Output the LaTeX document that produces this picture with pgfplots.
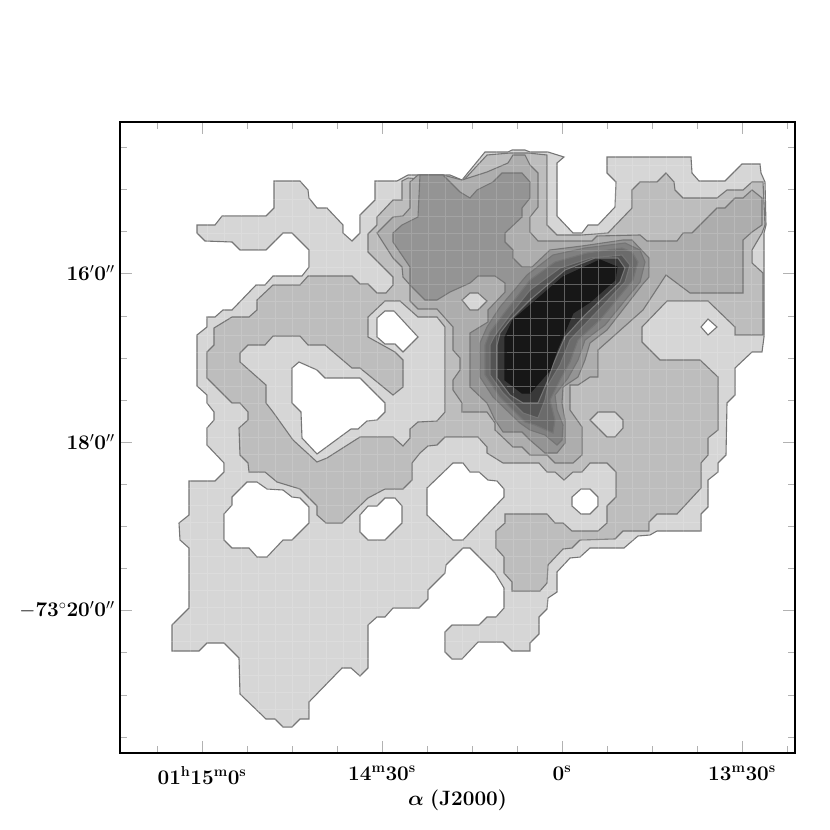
\documentclass[border=0pt]{standalone}
\usepackage{amsmath}
\usepackage{pgfplots}
\pgfplotsset{compat=1.18}
\definecolor{LA}{gray}{0.84}
\definecolor{LB}{gray}{0.74}
\definecolor{LC}{gray}{0.68}
\definecolor{LD}{gray}{0.58}
\definecolor{LE}{gray}{0.50}
\definecolor{LF}{gray}{0.42}
\definecolor{LG}{gray}{0.33}
\definecolor{LH}{gray}{0.22}
\definecolor{LI}{gray}{0.09}
\definecolor{Edge}{gray}{0.46}
\begin{document}
\begin{tikzpicture}[x=1pt,y=1pt]
\useasboundingbox (0,0) rectangle (830,830);
\begin{axis}[
  at={(120pt,77pt)}, anchor=south west,
  width=675pt, height=631pt, scale only axis,
  xmin=120, xmax=795, ymin=122, ymax=753, y dir=reverse,
  axis on top, axis line style={black,line width=1.8pt},
  unbounded coords=jump,
  tick align=inside, xtick pos=both, ytick pos=both,
  tick style={gray!60,line width=0.9pt},
  major tick length=12pt, minor tick length=7pt,
  xtick={202,382,562,742},
  xticklabels={$\mathbf{01^{h}15^{m}0^{s}}$,$\mathbf{14^{m}30^{s}}$,$\mathbf{0^{s}}$,$\mathbf{13^{m}30^{s}}$},
  minor xtick={157,247,292,337,427,472,517,607,652,697,787},
  ytick={273,442,610},
  yticklabels={$\mathbf{16'0''}$,$\mathbf{18'0''}$,$\mathbf{-73^{\circ}20'0''}$},
  minor ytick={147,189,231,316,358,400,484,526,568,652,695,737},
  tick label style={font=\fontsize{20.74}{23}\selectfont},
  xticklabel style={yshift=-10pt},
  yticklabel style={xshift=-2pt},
  xlabel={$\boldsymbol{\alpha}$ \textbf{(J2000)}},
  xlabel style={font=\fontsize{20.74}{23}\selectfont,yshift=1pt},
]
\pgfplotsset{every axis plot/.append style={line width=1.1pt,draw=Edge}}
% level A
\addplot[fill=LA] coordinates {(197,225)(215,225)(222,216)(266,216)(274,208)(274,181)(300,181)(308,190)(309,198)(317,208)(327,208)(343,225)(343,233)(352,241)(360,233)(360,215)(375,200)(375,181)(397,181)(408,175)(450,175)(462,180)(485,152)(508,152)(512,150)(525,150)(530,152)(548,152)(564,157)(557,163)(557,216)(573,233)(582,233)(588,225)(598,225)(615,207)(616,182)(607,173)(607,157)(691,157)(692,173)(699,181)(725,181)(742,164)(760,164)(761,173)(765,182)(766,225)(764,233)(764,337)(762,352)(752,352)(735,368)(735,395)(727,403)(726,455)(718,463)(718,472)(708,480)(708,507)(701,514)(701,531)(657,531)(650,535)(638,536)(624,548)(590,548)(580,557)(570,558)(557,572)(557,592)(548,598)(547,609)(539,617)(539,634)(530,643)(530,651)(512,651)(503,642)(478,642)(462,659)(452,659)(445,652)(445,632)(452,625)(479,625)(487,617)(496,617)(504,608)(504,588)(495,573)(470,548)(463,548)(446,565)(445,573)(428,590)(428,599)(419,608)(393,608)(385,617)(377,617)(368,625)(368,668)(360,676)(351,668)(342,668)(309,702)(309,719)(300,719)(292,727)(283,727)(275,719)(266,719)(240,694)(239,658)(224,643)(207,643)(199,651)(172,651)(172,625)(189,608)(189,548)(180,540)(179,523)(189,515)(189,481)(215,481)(224,472)(224,463)(207,445)(207,428)(214,420)(214,412)(207,403)(207,395)(197,386)(197,335)(207,327)(207,317)(215,317)(223,310)(232,310)(256,285)(265,285)(273,276)(302,276)(309,267)(309,250)(292,233)(283,233)(266,250)(240,250)(232,242)(205,241)(197,233)} --cycle;
% level B
\addplot[fill=LB] coordinates {(402,181)(408,178)(462,182)(487,155)(510,153)(528,153)(547,155)(547,225)(557,235)(582,235)(608,233)(632,208)(632,190)(640,182)(657,182)(666,173)(674,182)(675,190)(683,198)(717,198)(727,190)(743,190)(752,182)(763,182)(765,225)(762,233)(752,250)(752,263)(763,273)(763,335)(735,335)(735,327)(708,301)(667,301)(642,327)(642,342)(660,360)(700,360)(718,377)(718,430)(708,438)(708,455)(701,463)(701,488)(677,514)(657,514)(649,522)(649,531)(623,531)(615,539)(580,540)(572,548)(563,549)(548,565)(547,583)(540,591)(512,591)(512,582)(504,573)(504,557)(496,548)(496,531)(505,523)(505,514)(547,514)(555,523)(563,523)(572,531)(598,531)(607,523)(607,506)(616,497)(616,472)(607,463)(590,463)(582,472)(573,472)(564,480)(555,472)(547,472)(539,463)(503,463)(487,453)(487,447)(478,437)(445,437)(437,445)(428,446)(420,453)(412,463)(412,480)(403,489)(385,489)(368,498)(342,523)(326,523)(317,515)(317,506)(300,489)(277,482)(265,472)(249,472)(248,463)(240,455)(239,428)(248,420)(248,412)(240,403)(232,403)(207,378)(207,352)(214,345)(214,328)(232,317)(249,317)(257,310)(257,300)(273,285)(300,285)(308,276)(352,276)(360,284)(368,284)(377,293)(386,293)(393,285)(393,277)(368,252)(368,234)(377,225)(377,217)(393,200)(402,200)} --cycle;
% lighter inner parts of level B
\addplot[fill=LA] coordinates {(240,353)(248,345)(265,345)(273,336)(300,336)(308,345)(325,345)(352,368)(360,368)(393,395)(403,387)(403,360)(395,352)(368,337)(368,317)(385,301)(400,301)(418,317)(437,317)(445,327)(445,412)(437,421)(418,422)(410,429)(410,438)(403,446)(393,437)(360,437)(327,458)(317,462)(293,440)(273,412)(266,403)(266,385)(240,362)} --cycle;
\addplot[fill=LA] coordinates {(590,420)(598,412)(615,412)(623,420)(623,428)(615,437)(607,437)} --cycle;
% level C
\addplot[fill=LC] coordinates {(377,233)(393,258)(402,267)(403,277)(410,285)(410,301)(418,309)(437,309)(453,327)(453,350)(460,358)(460,370)(453,380)(453,390)(462,403)(462,412)(487,412)(495,423)(495,430)(513,447)(522,447)(530,455)(547,455)(555,463)(573,463)(582,455)(582,427)(570,410)(570,385)(578,385)(590,377)(598,377)(598,350)(643,310)(666,275)(690,293)(743,293)(743,240)(752,232)(762,225)(762,198)(752,190)(743,198)(735,198)(725,208)(717,208)(692,233)(683,233)(677,241)(647,241)(640,235)(597,236)(592,241)(538,241)(530,232)(530,217)(538,207)(538,173)(530,165)(525,155)(513,155)(508,163)(487,172)(462,180)(443,175)(418,175)(410,182)(410,208)(403,216)(393,217)} --cycle;
\addplot[fill=LA] coordinates {(462,300)(470,293)(478,293)(487,301)(478,310)(470,310)} --cycle;
% level D
\addplot[fill=LD] coordinates {(649,258)(649,277)(642,285)(607,330)(590,343)(585,360)(578,377)(563,387)(562,403)(565,420)(565,443)(557,453)(545,453)(530,440)(522,432)(503,432)(495,420)(487,403)(470,387)(470,333)(488,322)(488,310)(505,292)(505,283)(495,276)(478,276)(470,283)(450,292)(437,300)(425,300)(410,285)(410,267)(393,242)(393,233)(402,225)(418,217)(420,175)(443,175)(460,192)(470,198)(477,190)(493,182)(502,173)(522,173)(530,182)(530,198)(522,208)(522,217)(505,233)(505,242)(513,250)(513,258)(522,267)(532,267)(550,250)(582,246)(623,240)(632,240)} --cycle;
% inner levels
\addplot[fill=LE] coordinates {(480,343)(480,377)(493,397)(520,423)(530,430)(545,435)(557,445)(562,440)(563,425)(557,410)(555,395)(568,378)(578,360)(585,340)(605,325)(640,282)(645,262)(640,250)(625,243)(585,248)(553,255)(527,275)(500,307)(487,327)} --cycle;
\addplot[fill=LF] coordinates {(485,345)(485,375)(500,397)(525,422)(535,425)(553,433)(555,420)(550,400)(560,380)(570,362)(578,340)(600,320)(633,280)(638,262)(632,252)(622,248)(587,253)(555,262)(530,280)(505,312)(490,332)} --cycle;
\addplot[fill=LG] coordinates {(490,345)(490,375)(503,393)(523,413)(538,418)(545,400)(548,385)(560,365)(570,340)(592,317)(625,282)(630,265)(622,255)(590,258)(560,268)(530,290)(510,315)(495,335)} --cycle;
\addplot[fill=LH] coordinates {(497,345)(497,378)(510,395)(523,403)(538,403)(548,380)(553,365)(565,337)(585,315)(620,282)(625,268)(618,258)(595,258)(565,270)(530,300)(510,320)(500,333)} --cycle;
\addplot[fill=LI,draw=LI] coordinates {(505,337)(513,320)(563,277)(600,260)(617,267)(615,280)(590,302)(573,313)(557,350)(550,370)(530,393)(522,393)(505,380)} --cycle;
% empty islands
\addplot[fill=white] coordinates {(377,318)(385,311)(394,311)(418,337)(403,352)(395,344)(385,344)(377,337)} --cycle;
\addplot[fill=white] coordinates {(292,368)(299,362)(317,370)(325,378)(360,378)(385,403)(385,412)(377,420)(367,421)(358,429)(351,429)(317,454)(302,438)(301,412)(292,403)} --cycle;
\addplot[fill=white] coordinates {(224,514)(232,505)(232,497)(247,482)(257,482)(267,489)(283,490)(292,497)(300,498)(309,507)(309,523)(292,540)(283,540)(267,557)(257,557)(249,548)(232,548)(224,540)} --cycle;
\addplot[fill=white] coordinates {(360,515)(368,506)(377,506)(385,498)(395,498)(402,506)(402,523)(385,540)(368,540)(360,532)} --cycle;
\addplot[fill=white] coordinates {(427,488)(453,463)(463,463)(470,472)(479,472)(488,480)(497,481)(504,489)(504,497)(463,540)(453,540)(427,515)} --cycle;
\addplot[fill=white] coordinates {(572,497)(581,489)(590,489)(598,497)(598,506)(590,514)(581,514)(572,506)} --cycle;
\addplot[fill=white] coordinates {(701,327)(708,319)(717,327)(708,335)} --cycle;
% coordinate mesh
\addplot[white,opacity=0.15,line width=0.9pt] coordinates {
(173,165)(173,730)(nan,nan)(190,165)(190,730)(nan,nan)(207,165)(207,730)(nan,nan)(224,165)(224,730)(nan,nan)(241,165)(241,730)(nan,nan)(258,165)(258,730)(nan,nan)(275,165)(275,730)(nan,nan)(292,165)(292,730)(nan,nan)(309,165)(309,730)(nan,nan)(326,165)(326,730)(nan,nan)(343,165)(343,730)(nan,nan)(360,165)(360,730)(nan,nan)(377,165)(377,730)(nan,nan)(394,165)(394,730)(nan,nan)(411,165)(411,730)(nan,nan)(428,165)(428,730)(nan,nan)(445,165)(445,730)(nan,nan)(462,150)(462,730)(nan,nan)(479,150)(479,730)(nan,nan)(496,150)(496,730)(nan,nan)(513,150)(513,730)(nan,nan)(530,150)(530,730)(nan,nan)(547,150)(547,730)(nan,nan)(564,150)(564,730)(nan,nan)(581,150)(581,730)(nan,nan)(598,150)(598,730)(nan,nan)(615,150)(615,730)(nan,nan)(632,150)(632,730)(nan,nan)(649,150)(649,730)(nan,nan)(666,150)(666,730)(nan,nan)(683,150)(683,730)(nan,nan)(700,150)(700,730)(nan,nan)(717,150)(717,730)(nan,nan)(734,150)(734,730)(nan,nan)(751,150)(751,730)(nan,nan)
(165,165)(770,165)(nan,nan)(165,182)(770,182)(nan,nan)(165,199)(770,199)(nan,nan)(165,216)(770,216)(nan,nan)(165,233)(770,233)(nan,nan)(165,250)(770,250)(nan,nan)(165,267)(770,267)(nan,nan)(165,284)(770,284)(nan,nan)(165,301)(770,301)(nan,nan)(165,318)(770,318)(nan,nan)(165,335)(770,335)(nan,nan)(165,352)(770,352)(nan,nan)(165,369)(770,369)(nan,nan)(165,386)(770,386)(nan,nan)(165,403)(770,403)(nan,nan)(165,420)(770,420)(nan,nan)(165,437)(770,437)(nan,nan)(165,454)(770,454)(nan,nan)(165,471)(770,471)(nan,nan)(165,488)(770,488)(nan,nan)(165,505)(770,505)(nan,nan)(165,522)(770,522)(nan,nan)(165,539)(770,539)(nan,nan)(165,556)(770,556)(nan,nan)(165,573)(770,573)(nan,nan)(165,590)(770,590)(nan,nan)(165,607)(770,607)(nan,nan)(165,624)(770,624)(nan,nan)(165,641)(770,641)(nan,nan)(165,658)(770,658)(nan,nan)(165,675)(770,675)(nan,nan)(165,692)(770,692)(nan,nan)(165,709)(770,709)(nan,nan)(165,726)(770,726)
};
% mesh reads stronger across the dark core
\addplot[white,opacity=0.2,line width=0.9pt] coordinates {
(513,318)(513,393)(nan,nan)(530,298)(530,393)(nan,nan)(547,283)(547,385)(nan,nan)(564,275)(564,340)(nan,nan)(581,265)(581,320)(nan,nan)(598,260)(598,305)(nan,nan)
(507,335)(560,335)(nan,nan)(507,352)(556,352)(nan,nan)(507,369)(550,369)(nan,nan)(507,386)(535,386)(nan,nan)(515,318)(575,318)(nan,nan)(535,301)(590,301)(nan,nan)(553,284)(612,284)(nan,nan)(575,267)(617,267)
};
\end{axis}
\end{tikzpicture}
\end{document}
